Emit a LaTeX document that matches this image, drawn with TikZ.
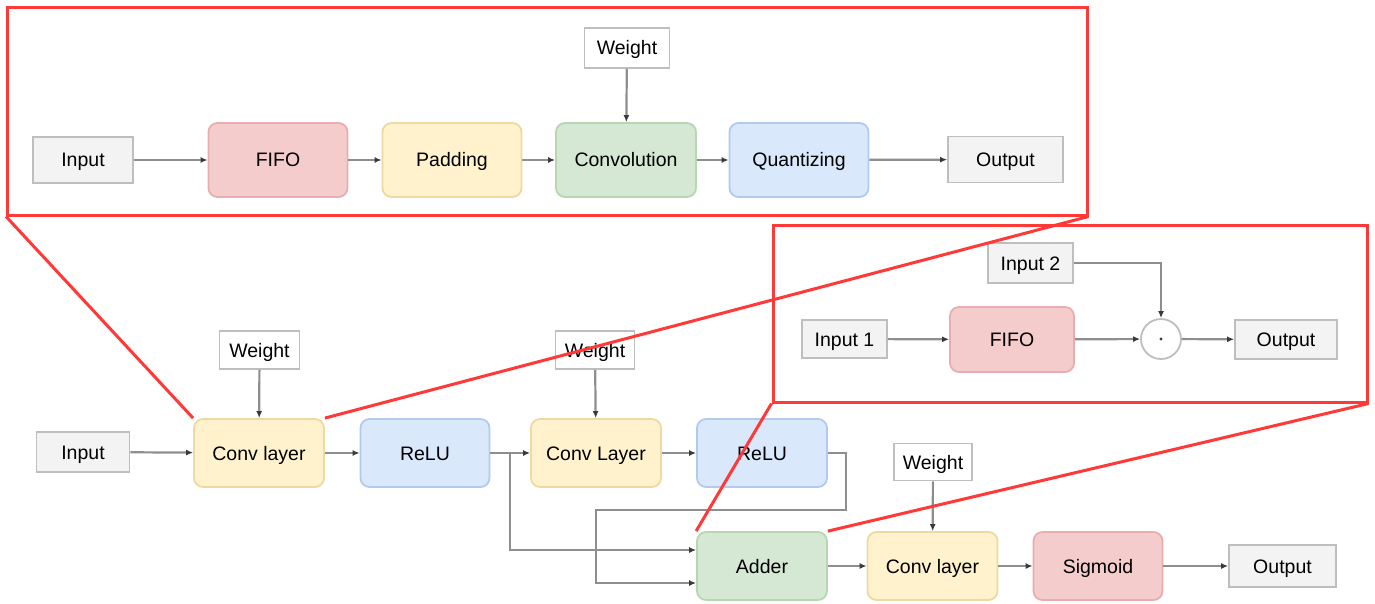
\documentclass[tikz,border=0pt]{standalone}
\usepackage{fontspec}
\setmainfont{Liberation Sans}
\usetikzlibrary{arrows.meta}
\definecolor{redc}{HTML}{FF3838}
\definecolor{boxgray}{HTML}{BEBEBE}
\definecolor{fillgray}{HTML}{F3F3F3}
\definecolor{redfill}{HTML}{F4CCCC}
\definecolor{redline}{HTML}{E8AEAE}
\definecolor{yelfill}{HTML}{FFF2CC}
\definecolor{yelline}{HTML}{EDDAA2}
\definecolor{grnfill}{HTML}{D5E8D4}
\definecolor{grnline}{HTML}{B8D6B3}
\definecolor{blufill}{HTML}{DAE8FC}
\definecolor{bluline}{HTML}{B3CAEC}
\definecolor{linegray}{HTML}{8E8E8E}
\definecolor{tipgray}{HTML}{3A3A3A}
\begin{document}
\begin{tikzpicture}[x=1pt,y=-1pt,
  base/.style={font=\fontsize{19.5}{22}\selectfont, inner sep=0pt, line width=1.8pt, align=center, text height=16pt, text depth=2pt},
  gbox/.style={base, rectangle, draw=boxgray, fill=fillgray},
  wbox/.style={gbox, fill=white},
  proc/.style={base, rectangle, rounded corners=9pt},
  pred/.style={proc, fill=redfill, draw=redline},
  pyel/.style={proc, fill=yelfill, draw=yelline},
  pgrn/.style={proc, fill=grnfill, draw=grnline},
  pblu/.style={proc, fill=blufill, draw=bluline},
  sz/.style 2 args={minimum width=#1pt, minimum height=#2pt},
  arr/.style={draw=linegray, line width=2.2pt, -{Latex[length=7pt,width=6pt,color=tipgray]}},
  zoombox/.style={draw=redc, line width=3pt, inner sep=0pt, rectangle},
  zoomline/.style={draw=redc, line width=3pt}
]
\useasboundingbox (0,0) rectangle (1375,604);

% ---------- top zoom box ----------
\node[zoombox, sz={1079.5}{207}] (topzoom) at (547.25,111.5) {};
\node[gbox, sz={100}{46}] (tin) at (83,160) {Input};
\node[pred, sz={139}{74}] (tfifo) at (278,160) {FIFO};
\node[pyel, sz={139}{74}] (tpad) at (452,160) {Padding};
\node[pgrn, sz={140}{74}] (tconv) at (626,160) {Convolution};
\node[pblu, sz={139}{74}] (tquant) at (799,160) {Quantizing};
\node[gbox, sz={115}{46}] (tout) at (1005.5,159.5) {Output};
\node[wbox, sz={85}{40}] (tw) at (627,48) {Weight};
\draw[arr] (tin) -- (tfifo);
\draw[arr] (tfifo) -- (tpad);
\draw[arr] (tpad) -- (tconv);
\draw[arr] (tconv) -- (tquant);
\draw[arr] (tquant) -- (tout);
\draw[arr] (tw) -- (tconv);

% ---------- right zoom box ----------
\node[zoombox, sz={594}{177}] (rzoom) at (1070,313.5) {};
\node[gbox, sz={85}{40}] (in2) at (1030.5,263) {Input 2};
\node[gbox, sz={85}{38}] (in1) at (844.5,339) {Input 1};
\node[pred, sz={124}{65}] (rfifo) at (1012,339.5) {FIFO};
\node[circle, draw=boxgray, line width=1.8pt, fill=white, minimum size=40pt, inner sep=0pt] (sum) at (1161,339) {};
\fill[tipgray] (sum.center) circle (1.6pt);
\node[gbox, sz={102}{39}] (rout) at (1286,339.5) {Output};
\draw[arr] (in1) -- (rfifo);
\draw[arr] (rfifo) -- (sum);
\draw[arr] (sum) -- (rout);
\draw[arr] (in2.east) -| (sum.north);

% ---------- main network ----------
\node[gbox, sz={93}{40}] (bin) at (83,452) {Input};
\node[pyel, sz={130}{68}] (conv1) at (259,453) {Conv layer};
\node[wbox, sz={80}{38}] (w1) at (259.5,350) {Weight};
\node[pblu, sz={129}{68}] (relu1) at (425,453) {ReLU};
\node[pyel, sz={130}{68}] (conv2) at (596,453) {Conv Layer};
\node[wbox, sz={79}{38}] (w2) at (595,350) {Weight};
\node[pblu, sz={130}{68}] (relu2) at (762,453) {ReLU};
\node[pgrn, sz={130}{68}] (adder) at (762,566) {Adder};
\node[wbox, sz={78}{37}] (w3) at (933,462) {Weight};
\node[pyel, sz={130}{68}] (conv3) at (932.5,566) {Conv layer};
\node[pred, sz={129}{68}] (sig) at (1098,566) {Sigmoid};
\node[gbox, sz={107}{42}] (bout) at (1282.5,566) {Output};

\draw[arr] (bin) -- (conv1);
\draw[arr] (w1) -- (conv1);
\draw[arr] (conv1) -- (relu1);
\draw[arr] (relu1) -- (conv2);
\draw[arr] (w2) -- (conv2);
\draw[arr] (conv2) -- (relu2);
\coordinate (br) at (510,453);
\draw[arr] (br) |- ([yshift=16pt]adder.west);
\coordinate (l1) at (846,453);
\coordinate (l2) at (846,510);
\coordinate (l3) at (596,510);
\draw[arr] (relu2.east) -- (l1) -- (l2) -- (l3) |- ([yshift=-17pt]adder.west);
\draw[arr] (w3) -- (conv3);
\draw[arr] (adder) -- (conv3);
\draw[arr] (conv3) -- (sig);
\draw[arr] (sig) -- (bout);

% ---------- zoom lines ----------
\draw[zoomline] (topzoom.south west) -- (conv1.north west);
\draw[zoomline] (conv1.north east) -- (topzoom.south east);
\draw[zoomline] (rzoom.south west) -- (adder.north west);
\draw[zoomline] (adder.north east) -- (rzoom.south east);
\end{tikzpicture}
\end{document}
